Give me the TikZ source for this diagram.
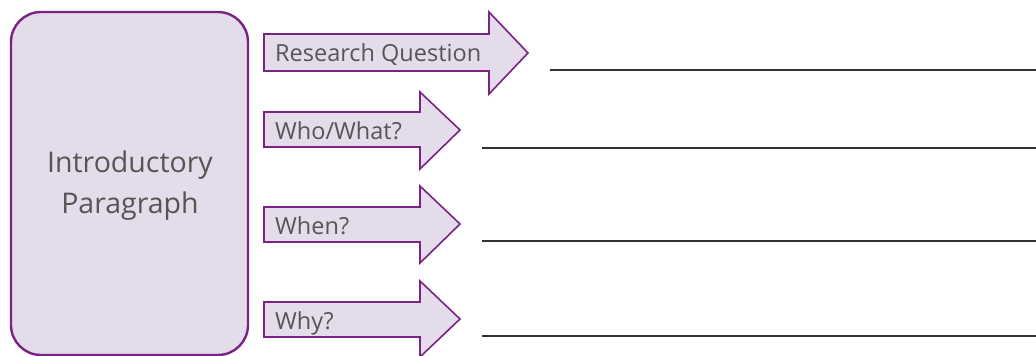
\documentclass[tikz,border=0pt]{standalone}
\usepackage{fontspec}
\setmainfont{Open Sans}
\definecolor{pur}{HTML}{7B2382}
\definecolor{lav}{HTML}{E4DCEA}
\definecolor{txt}{HTML}{555555}
\definecolor{ln}{HTML}{333333}
\begin{document}
\begin{tikzpicture}[x=1pt,y=-1pt,
  arrowshape/.style={draw=pur,fill=lav,line width=1.6pt,line join=miter},
  lbl/.style={anchor=base west,text=txt,font=\fontsize{23.5}{28}\selectfont,inner sep=0pt},
  blank/.style={draw=ln,line width=1.2pt}]
\useasboundingbox (0,0) rectangle (1036,356);
% main box
\draw[draw=pur,fill=lav,line width=2.4pt,rounded corners=30pt] (11,12) rectangle (248,355);
\node[text=txt,font=\fontsize{28.5}{41}\selectfont,align=center,anchor=base,inner sep=0pt] (intro) at (130,213) {Introductory\\Paragraph};
% arrow 1
\draw[arrowshape] (264,34) -- (489,34) -- (489,12) -- (528,53) -- (489,94) -- (489,71) -- (264,71) -- cycle;
\node[lbl] (rq) at (275,61) {Research Question};
% arrow 2
\draw[arrowshape] (264,112) -- (420,112) -- (420,92) -- (460,130) -- (420,169) -- (420,147) -- (264,147) -- cycle;
\node[lbl] (who) at (275,139) {Who/What?};
% arrow 3
\draw[arrowshape] (264,207) -- (420,207) -- (420,186) -- (460,224) -- (420,263) -- (420,242) -- (264,242) -- cycle;
\node[lbl] (when) at (275,234) {When?};
% arrow 4
\draw[arrowshape] (264,302) -- (420,302) -- (420,281) -- (460,319) -- (420,357) -- (420,337) -- (264,337) -- cycle;
\node[lbl] (why) at (275,329) {Why?};
% blank lines
\coordinate (l1a) at (550,70); \coordinate (l1b) at (1036,70);
\coordinate (l2a) at (482,148); \coordinate (l2b) at (1036,148);
\coordinate (l3a) at (482,241); \coordinate (l3b) at (1036,241);
\coordinate (l4a) at (482,336); \coordinate (l4b) at (1036,336);
\draw[blank] (l1a) -- (l1b);
\draw[blank] (l2a) -- (l2b);
\draw[blank] (l3a) -- (l3b);
\draw[blank] (l4a) -- (l4b);
\end{tikzpicture}
\end{document}
